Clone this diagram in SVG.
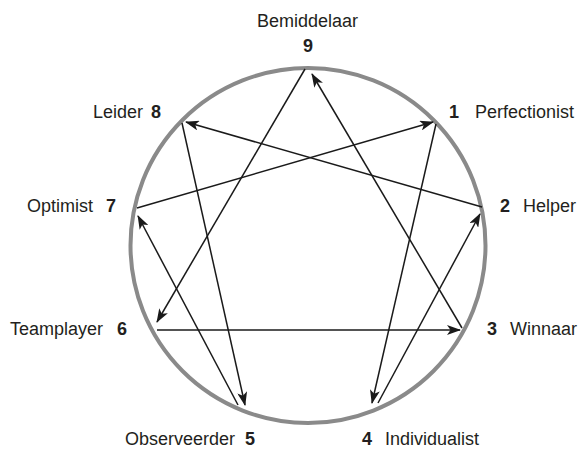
<svg xmlns="http://www.w3.org/2000/svg" width="581" height="453" viewBox="0 0 581 453">
<style>
.lbl{font-family:"Liberation Sans",Arial,sans-serif;font-size:18px;fill:#231f20}
.num{font-family:"Liberation Sans",Arial,sans-serif;font-size:18px;font-weight:bold;fill:#231f20}
.ln{stroke:#1a1a1a;stroke-width:1.5;fill:none}
.arr{marker-end:url(#ah)}
</style>
<defs>
<marker id="ah" viewBox="0 0 14 10" refX="13" refY="5" markerWidth="14" markerHeight="10" markerUnits="userSpaceOnUse" orient="auto">
<path d="M0,0 L14,5 L0,10 L3.5,5 z" fill="#1a1a1a"/>
</marker>
</defs>
<circle id="ring" cx="308" cy="245.5" r="177.5" fill="none" stroke="#8a8a8a" stroke-width="4"/>
<g id="connectors">
<line class="ln arr" x1="137" y1="208" x2="433" y2="122"/>
<line class="ln arr" x1="436" y1="124" x2="372" y2="403"/>
<line class="ln arr" x1="378" y1="403" x2="480" y2="214"/>
<line class="ln arr" x1="482" y1="207" x2="186" y2="122"/>
<line class="ln arr" x1="182" y1="123" x2="245" y2="405"/>
<line class="ln arr" x1="238" y1="405" x2="138" y2="216"/>
<line class="ln arr" x1="305" y1="69" x2="157" y2="322"/>
<line class="ln arr" x1="157" y1="330" x2="460" y2="330"/>
<line class="ln arr" x1="462" y1="328" x2="312" y2="74"/>
</g>
<g id="n9"><text class="lbl" x="307.5" y="27" text-anchor="middle">Bemiddelaar</text><text class="num" x="308" y="52" text-anchor="middle">9</text></g>
<g id="n1"><text class="num" x="449" y="118">1</text><text class="lbl" x="475" y="118">Perfectionist</text></g>
<g id="n2"><text class="num" x="500" y="212">2</text><text class="lbl" x="523" y="212">Helper</text></g>
<g id="n3"><text class="num" x="487" y="335">3</text><text class="lbl" x="510" y="335">Winnaar</text></g>
<g id="n4"><text class="num" x="362" y="445">4</text><text class="lbl" x="385" y="445">Individualist</text></g>
<g id="n5"><text class="lbl" x="235" y="445" text-anchor="end">Observeerder</text><text class="num" x="245" y="445">5</text></g>
<g id="n6"><text class="lbl" x="103" y="335" text-anchor="end">Teamplayer</text><text class="num" x="117" y="335">6</text></g>
<g id="n7"><text class="lbl" x="93" y="212" text-anchor="end">Optimist</text><text class="num" x="106" y="212">7</text></g>
<g id="n8"><text class="lbl" x="143" y="118" text-anchor="end">Leider</text><text class="num" x="151" y="118">8</text></g>
</svg>
